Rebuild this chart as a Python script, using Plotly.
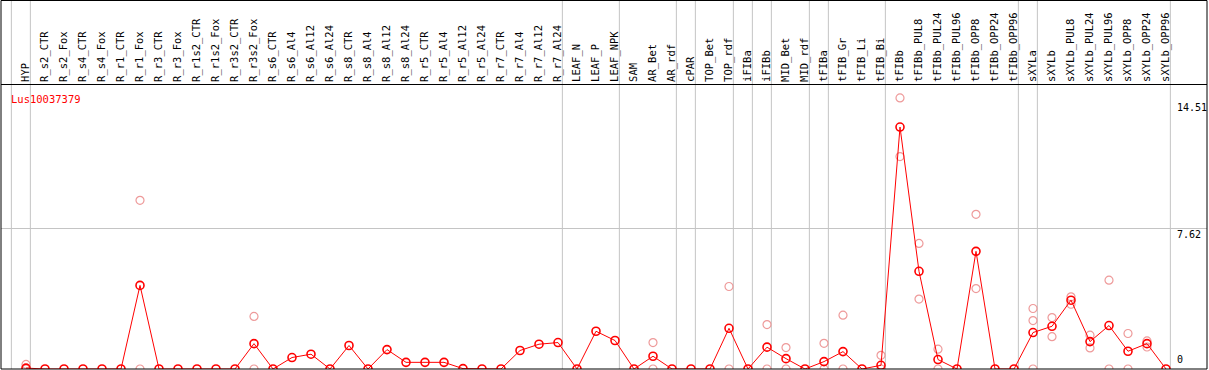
import plotly.graph_objects as go

categories = [
    "HYP", "R_s2_CTR", "R_s2_Fox", "R_s4_CTR", "R_s4_Fox", "R_r1_CTR", "R_r1_Fox",
    "R_r3_CTR", "R_r3_Fox", "R_r1s2_CTR", "R_r1s2_Fox", "R_r3s2_CTR", "R_r3s2_Fox",
    "R_s6_CTR", "R_s6_Al4", "R_s6_Al12", "R_s6_Al24", "R_s8_CTR", "R_s8_Al4",
    "R_s8_Al12", "R_s8_Al24", "R_r5_CTR", "R_r5_Al4", "R_r5_Al12", "R_r5_Al24",
    "R_r7_CTR", "R_r7_Al4", "R_r7_Al12", "R_r7_Al24", "LEAF_N", "LEAF_P", "LEAF_NPK",
    "SAM", "AR_Bet", "AR_rdf", "cPAR", "TOP_Bet", "TOP_rdf", "iFIBa", "iFIBb",
    "MID_Bet", "MID_rdf", "tFIBa", "tFIB_Gr", "tFIB_Li", "tFIB_Bi", "tFIBb",
    "tFIBb_PUL8", "tFIBb_PUL24", "tFIBb_PUL96", "tFIBb_OPP8", "tFIBb_OPP24",
    "tFIBb_OPP96", "sXYLa", "sXYLb", "sXYLb_PUL8", "sXYLb_PUL24", "sXYLb_PUL96",
    "sXYLb_OPP8", "sXYLb_OPP24", "sXYLb_OPP96",
]

means = [
    0.05, 0, 0, 0, 0, 0, 4.52,
    0, 0, 0, 0, 0, 1.37,
    0, 0.62, 0.80, 0, 1.27, 0,
    1.05, 0.36, 0.36, 0.36, 0.02, 0,
    0, 1.00, 1.34, 1.43, 0, 2.04, 1.54,
    0, 0.69, 0, 0, 0, 2.20, 0, 1.18,
    0.56, 0, 0.40, 0.94, 0, 0.20, 13.08,
    5.28, 0.51, 0, 6.36, 0,
    0, 1.97, 2.31, 3.72, 1.48, 2.35,
    0.96, 1.37, 0,
]

replicates = {
    "HYP": [0.25, 0],
    "R_r1_Fox": [9.12, 0],
    "R_r3s2_Fox": [2.84, 0],
    "AR_Bet": [1.43, 0],
    "TOP_rdf": [4.46, 0],
    "iFIBb": [2.40, 0],
    "MID_Bet": [1.16, 0],
    "tFIBa": [1.39, 0],
    "tFIB_Gr": [2.91, 0],
    "tFIB_Bi": [0.74, 0],
    "tFIBb": [14.65, 11.48],
    "tFIBb_PUL8": [6.79, 3.78],
    "tFIBb_PUL24": [1.07, 0],
    "tFIBb_OPP8": [8.36, 4.35],
    "sXYLa": [3.27, 2.62, 0],
    "sXYLb": [2.78, 1.75],
    "sXYLb_PUL8": [3.90, 3.50],
    "sXYLb_PUL24": [1.83, 1.14],
    "sXYLb_PUL96": [4.80, 0],
    "sXYLb_OPP8": [1.92, 0],
    "sXYLb_OPP24": [1.52, 1.19],
}

group_ends = ["HYP", "R_r7_Al24", "LEAF_NPK", "AR_rdf", "cPAR", "TOP_rdf", "iFIBa",
              "iFIBb", "MID_rdf", "tFIBa", "tFIB_Bi", "tFIBb_OPP96", "sXYLa", "sXYLb_OPP96"]

y_ticks = [0, 7.62, 14.51]
gene_id = "Lus10037379"

W, H = 1209, 370
ML, MR, MT, MB = 1, 2, 85, 1
plot_h = H - MT - MB
MONO = "DejaVu Sans Mono"

xs = list(range(len(categories)))
idx = {c: i for i, c in enumerate(categories)}

rx, ry = [], []
for c, vals in replicates.items():
    for v in vals:
        rx.append(idx[c])
        ry.append(v)

fig = go.Figure()
fig.add_trace(go.Scatter(
    x=rx, y=ry, mode="markers",
    marker=dict(symbol="circle-open", size=8, color="#ee9a9a", line=dict(width=1.2, color="#ee9a9a")),
    hoverinfo="skip", showlegend=False,
))
fig.add_trace(go.Scatter(
    x=xs, y=means, mode="lines+markers",
    line=dict(color="#ff0000", width=1),
    marker=dict(symbol="circle-open", size=8, color="#ff0000", line=dict(width=1.6, color="#ff0000")),
    showlegend=False,
))

shapes = []
sep_positions = [-1] + [idx[c] for c in group_ends]
top_paper = (H - MB - 0.5) / plot_h
for p in sep_positions:
    shapes.append(dict(type="line", xref="x", yref="paper", x0=p + 0.23, x1=p + 0.23,
                       y0=0, y1=top_paper, line=dict(color="#c4c4c4", width=1), layer="below"))
shapes.append(dict(type="rect", xref="paper", yref="paper", x0=0, x1=1, y0=0, y1=top_paper,
                   line=dict(color="black", width=1)))

annotations = [dict(
    text=gene_id, xref="paper", yref="paper", x=(9 - ML) / (W - ML - MR), y=(H - MB - 91) / plot_h,
    xanchor="left", yanchor="top", showarrow=False,
    font=dict(family=MONO, size=10.5, color="#ff0000"),
)]
lab_x = (1175 - ML) / (W - ML - MR)
for v in y_ticks:
    annotations.append(dict(
        text=("%g" % v), xref="paper", yref="y", x=lab_x, y=v,
        xanchor="left", yanchor=("bottom" if v == 0 else "top"), yshift=(2 if v == 0 else 1),
        showarrow=False, font=dict(family=MONO, size=10, color="black"),
    ))

fig.update_layout(
    width=W, height=H,
    margin=dict(l=ML, r=MR, t=MT, b=MB, pad=0, autoexpand=False),
    paper_bgcolor="white", plot_bgcolor="white",
    shapes=shapes, annotations=annotations,
    xaxis=dict(
        range=[-25 / 19, (W - MR - 26) / 19], side="top", automargin=False,
        tickvals=xs, ticktext=categories, tickangle=-90,
        tickfont=dict(family=MONO, size=10.5, color="black"),
        showgrid=False, zeroline=False, ticks="",
        showline=True, linecolor="black", linewidth=1,
    ),
    yaxis=dict(
        range=[0, plot_h / 18.5], tickvals=[y_ticks[1]], showticklabels=False, automargin=False,
        showgrid=True, gridcolor="#c4c4c4", gridwidth=1, zeroline=False, ticks="",
    ),
)

fig.write_html(
    "out.html",
    config={"displayModeBar": False},
    post_script="document.body.style.margin='0';document.body.style.overflow='hidden';",
)
